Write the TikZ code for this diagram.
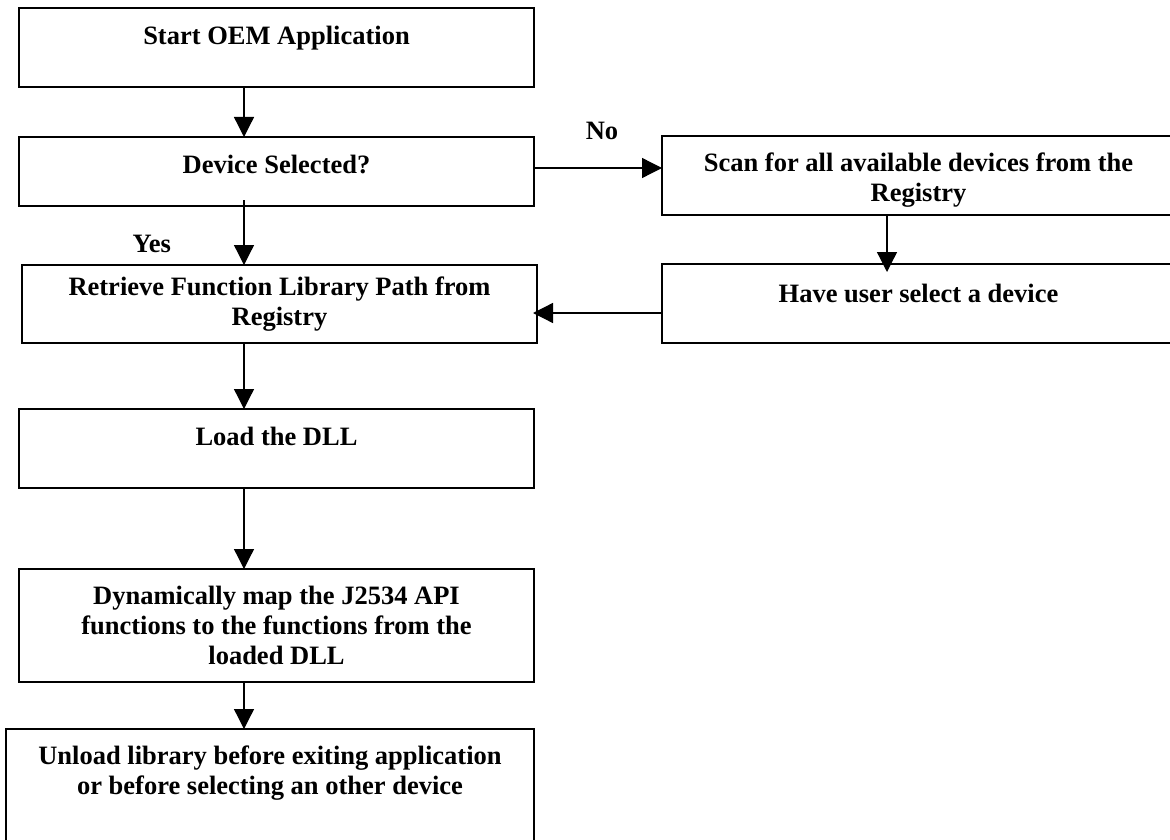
\documentclass[tikz,border=0pt]{standalone}
\usepackage{fontspec}
\setmainfont{Liberation Serif}
\usetikzlibrary{arrows.meta}

\begin{document}
\begin{tikzpicture}[x=1pt, y=1pt, font=\fontsize{26.5}{30}\selectfont\bfseries,
    box/.style={shape=rectangle, draw=black, line width=1.6pt, anchor=north west, inner sep=0pt, outer sep=0pt, align=center},
    arr/.style={-{Triangle[length=20pt, width=20pt]}, line width=1.3pt}]
    \clip (0,0) rectangle (1170,-840);

    \node[box, minimum width=515pt, text height=36.5pt, text depth=42.5pt] (A) at (19,-8) {Start OEM Application};
    \node[box, minimum width=515pt, text height=36.5pt, text depth=32.5pt] (B) at (19,-137) {Device Selected?};
    \node[box, minimum width=515pt, text height=60pt, text depth=18pt] (C) at (22,-265) {Retrieve Function Library Path from\\Registry};
    \node[box, minimum width=515pt, text height=36pt, text depth=43pt] (D) at (19,-409) {Load the DLL};
    \node[box, minimum width=515pt, text height=95pt, text depth=18pt] (E) at (19,-569) {Dynamically map the J2534 API\\functions to the functions from the\\loaded DLL};
    \node[box, minimum width=528pt, text height=65pt, text depth=65pt] (F) at (6,-729) {Unload library before exiting application\\or before selecting an other device};
    \node[box, minimum width=513pt, text height=65pt, text depth=14pt] (G) at (662,-136) {Scan for all available devices from the\\Registry};
    \node[box, minimum width=513pt, text height=38pt, text depth=41pt] (H) at (662,-264) {Have user select a device};

    \coordinate (s) at (244,0);
    \coordinate (t) at (887,0);
    \coordinate (n) at (0,-168);
    \coordinate (m) at (0,-313);

    \draw[arr] (A.south -| s) -- (B.north -| s);
    \path[arr] ([yshift=6pt]B.south -| s) edge node[pos=.8, anchor=base east, xshift=-69pt] {Yes} (C.north -| s);
    \path[arr] (B.east |- n) edge node[midway, anchor=base, yshift=28pt, xshift=4pt] {No} (G.west |- n);
    \draw[arr] (G.south -| t) -- ([yshift=-8pt]H.north -| t);
    \draw[arr] (H.west |- m) -- ([xshift=-4pt]C.east |- m);
    \draw[arr] (C.south -| s) -- (D.north -| s);
    \draw[arr] (D.south -| s) -- (E.north -| s);
    \draw[arr] (E.south -| s) -- (F.north -| s);
\end{tikzpicture}
\end{document}
